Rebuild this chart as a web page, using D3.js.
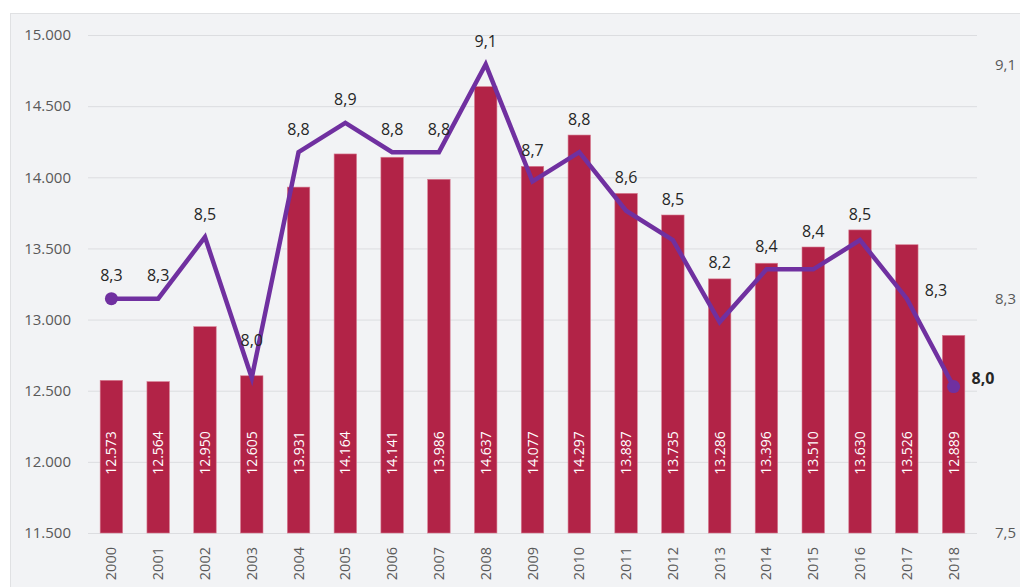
<!DOCTYPE html>
<html>
<head>
<meta charset="utf-8">
<script src="https://d3js.org/d3.v7.min.js"></script>
<style>
  body { margin: 0; background: #fff; }
  text { font-family: "Open Sans", "Noto Sans", sans-serif; }
</style>
</head>
<body>
<svg></svg>
<script>

var years = ["2000","2001","2002","2003","2004","2005","2006","2007","2008","2009",
             "2010","2011","2012","2013","2014","2015","2016","2017","2018"];
var barValues = [12573,12564,12950,12605,13931,14164,14141,13986,14637,14077,
                 14297,13887,13735,13286,13396,13510,13630,13526,12889];
var lineValues = [8.30,8.30,8.51,8.03,8.80,8.90,8.80,8.80,9.10,8.70,
                  8.80,8.60,8.50,8.22,8.40,8.40,8.50,8.30,8.00];
var leftTicks = [11500,12000,12500,13000,13500,14000,14500,15000];
var rightTicks = [7.5,8.3,9.1];
// labels drawn to the right of the point instead of above
var rightLabelYears = ["2017","2018"];

var width = 1020, height = 587,
    margin = {left: 88, right: 43, top: 35, bottom: 54};

var svg = d3.select("svg").attr("width", width).attr("height", height);

//panel
svg.append("rect").attr("x", 10.5).attr("y", 13.5)
  .attr("width", width).attr("height", height)
  .attr("fill", "#f2f3f5").attr("stroke", "#e0e1e3");

var x = d3.scaleBand().domain(years)
  .range([margin.left, width - margin.right]).paddingInner(0.52).paddingOuter(0.26);
var yL = d3.scaleLinear().domain([11500, 15000]).range([height - margin.bottom, margin.top]);
var yR = d3.scaleLinear().domain([7.5, 9.2]).range([height - margin.bottom, margin.top]);

var fmtL = d3.formatLocale({decimal: ",", thousands: ".", grouping: [3], currency: ["", ""]});
var fInt = fmtL.format(",d"), fDec = fmtL.format(".1f");

//gridlines
svg.append("g").selectAll("line").data(leftTicks).enter().append("line")
  .attr("x1", margin.left).attr("x2", width - margin.right)
  .attr("y1", function(d) { return yL(d) + 0.5; }).attr("y2", function(d) { return yL(d) + 0.5; })
  .attr("stroke", "#dcdde0").attr("stroke-width", 1);

//left axis
var axL = svg.append("g").attr("transform", "translate(" + (margin.left - 17) + ",0)")
  .call(d3.axisLeft(yL).tickValues(leftTicks).tickFormat(fInt).tickSize(0));
axL.select(".domain").remove();
axL.selectAll("text").attr("font-size", 15).attr("fill", "#595959").attr("x", 0);

//right axis
var axR = svg.append("g").attr("transform", "translate(" + 995 + ",0)")
  .call(d3.axisRight(yR).tickValues(rightTicks).tickFormat(fDec).tickSize(0));
axR.select(".domain").remove();
axR.selectAll("text").attr("font-size", 15).attr("fill", "#595959").attr("x", 0);

//year labels
svg.append("g").selectAll("text").data(years).enter().append("text")
  .attr("transform", function(d) {
    return "translate(" + (x(d) + x.bandwidth() / 2 + 5) + "," + (height - margin.bottom + 14) + ") rotate(-90)";
  })
  .attr("text-anchor", "end").attr("font-size", 14.5).attr("fill", "#595959")
  .text(function(d) { return d; });

//bars
svg.append("g").selectAll("rect").data(barValues).enter().append("rect")
  .attr("x", function(d, i) { return x(years[i]); })
  .attr("y", function(d) { return yL(d); })
  .attr("width", x.bandwidth())
  .attr("height", function(d) { return yL(11500) - yL(d); })
  .attr("fill", "#b22347").attr("stroke", "#d77d92").attr("stroke-width", 0.6);

//bar value labels
svg.append("g").selectAll("text").data(barValues).enter().append("text")
  .attr("transform", function(d, i) {
    return "translate(" + (x(years[i]) + x.bandwidth() / 2 + 5) + "," + 453 + ") rotate(-90)";
  })
  .attr("text-anchor", "middle").attr("font-size", 14).attr("fill", "#fff")
  .text(function(d) { return fInt(d); });

//line
var cx = function(i) { return x(years[i]) + x.bandwidth() / 2; };
var line = d3.line().x(function(d, i) { return cx(i); }).y(function(d) { return yR(d); });
svg.append("path").datum(lineValues).attr("d", line)
  .attr("fill", "none").attr("stroke", "#7030a0").attr("stroke-width", 4.5)
  .attr("stroke-linejoin", "miter");

//end markers
svg.append("g").selectAll("circle").data([0, lineValues.length - 1]).enter().append("circle")
  .attr("cx", function(i) { return cx(i); }).attr("cy", function(i) { return yR(lineValues[i]); })
  .attr("r", 6.5).attr("fill", "#7030a0");

//line value labels
svg.append("g").selectAll("text").data(lineValues).enter().append("text")
  .attr("x", function(d, i) {
    return rightLabelYears.indexOf(years[i]) >= 0 ? cx(i) + 18 : cx(i);
  })
  .attr("y", function(d, i) {
    if (rightLabelYears.indexOf(years[i]) >= 0) return yR(d) - 8;
    var yy = Math.min(yR(d) - 23, yL(barValues[i]) - 16);
    //sharp dips: push label clear of the line tip
    if (i > 0 && i < lineValues.length - 1 && d < lineValues[i - 1] - 0.3 && d < lineValues[i + 1] - 0.3) yy -= 14;
    return yy;
  })
  .attr("dy", "0.35em")
  .attr("text-anchor", function(d, i) { return rightLabelYears.indexOf(years[i]) >= 0 ? "start" : "middle"; })
  .attr("font-size", 16).attr("fill", "#262626")
  .attr("font-weight", function(d, i) { return i === lineValues.length - 1 ? "bold" : "normal"; })
  .text(function(d) { return fDec(d); });

</script>
</body>
</html>
